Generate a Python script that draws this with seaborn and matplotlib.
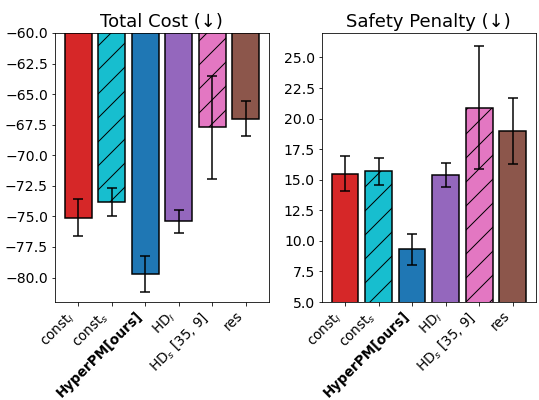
import numpy as np
import pandas as pd
import seaborn as sns
import matplotlib.pyplot as plt

methods = ["const_l", "const_s", "HyperPM", "HD_l", "HD_s", "res"]
tick_labels = [r"const$_l$", r"const$_s$", "HyperPM[ours]", r"HD$_l$", r"HD$_s$ [35, 9]", "res"]
colors = ["tab:red", "tab:cyan", "tab:blue", "tab:purple", "tab:pink", "tab:brown"]
hatches = ["", "/", "", "", "/", ""]

cost_mean = [-75.1, -73.8, -79.7, -75.4, -67.7, -67.0]
cost_err = [1.5, 1.15, 1.5, 0.95, 4.2, 1.4]
safety_mean = [15.5, 15.7, 9.3, 15.4, 20.9, 19.0]
safety_err = [1.45, 1.1, 1.3, 1.0, 5.05, 2.7]

df = pd.DataFrame({"method": methods, "cost": cost_mean, "cost_err": cost_err,
                   "safety": safety_mean, "safety_err": safety_err})

fig, axes = plt.subplots(1, 2, figsize=(539 / 72, 400 / 72), dpi=72)
fig.subplots_adjust(left=0.102, right=0.994, top=0.9175, bottom=0.245, wspace=0.248)


def draw_panel(ax, col, err_col, title, ylim, ticks):
    sns.barplot(data=df, x="method", y=col, hue="method", palette=colors,
                legend=False, ax=ax, width=0.8, edgecolor="black",
                linewidth=1.5, saturation=1)
    for patch, h in zip(ax.patches, hatches):
        patch.set_hatch(h)
    ax.errorbar(np.arange(len(methods)), df[col], yerr=df[err_col],
                fmt="none", ecolor="black", capsize=5, elinewidth=1.5,
                capthick=1.5)
    ax.set_xlim(-0.69, 5.69)
    ax.set_ylim(*ylim)
    ax.set_yticks(ticks)
    ax.set_title(title, fontsize=18)
    ax.set_xlabel("")
    ax.set_ylabel("")
    ax.set_xticks(np.arange(len(methods)))
    ax.set_xticklabels(tick_labels, rotation=45, ha="right", fontsize=13.5)
    ax.get_xticklabels()[2].set_fontweight("bold")
    ax.tick_params(axis="y", labelsize=14)


draw_panel(axes[0], "cost", "cost_err", "Total Cost (\u2193)", (-82, -60),
           np.arange(-80, -59.9, 2.5))
draw_panel(axes[1], "safety", "safety_err", "Safety Penalty (\u2193)", (5, 27),
           np.arange(5, 25.1, 2.5))

plt.savefig("out.png", dpi=72)
